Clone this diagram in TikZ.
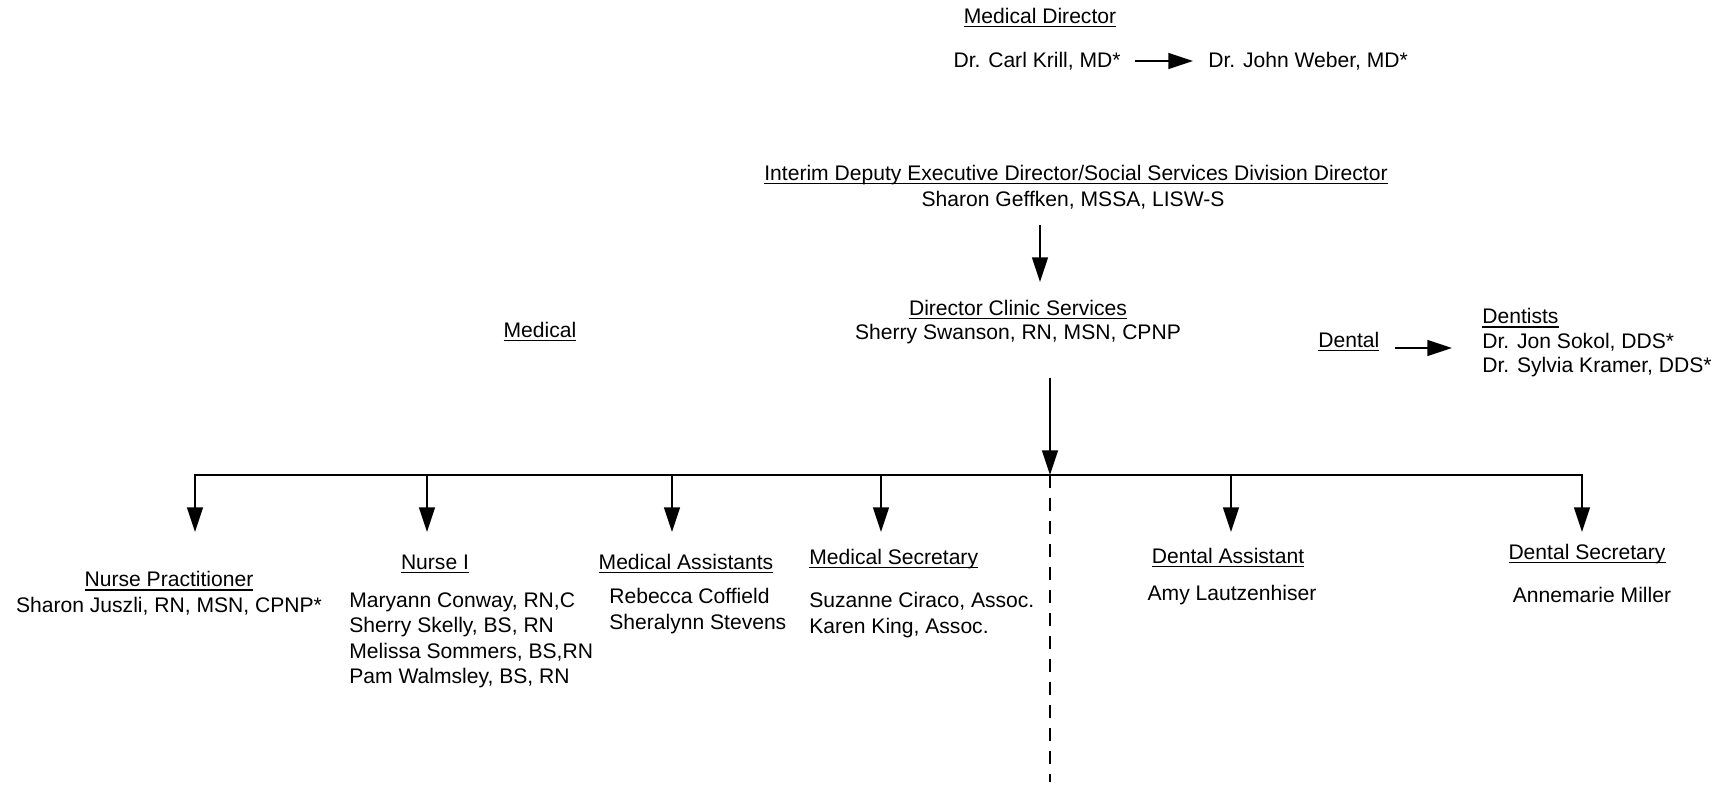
\documentclass[tikz,border=0pt]{standalone}
\usepackage{fontspec}
\setmainfont{Liberation Sans}
\usetikzlibrary{arrows.meta, positioning, calc}
\newsavebox{\hdrbox}
\newcommand{\hdr}[1]{\sbox{\hdrbox}{#1}\rlap{\rule[-2.2pt]{\wd\hdrbox}{0.6pt}}\usebox{\hdrbox}}

\begin{document}
\begin{tikzpicture}[x=0.02cm, y=-0.02cm,
    txt/.style={inner sep=0pt, font=\fontsize{12}{14.5}\selectfont},
    link/.style={-{Triangle[length=14pt, width=9pt]}, line width=1pt}]
    % Frame
    \useasboundingbox (0,0) rectangle (1721,785);

    % Medical director
    \node[txt, anchor=base] (mdir) at (1040,23) {\hdr{Medical Director}};
    \node[txt, anchor=base east] (krill) at (1121,67) {Dr. Carl Krill, MD*};
    \node[txt, anchor=base west] (weber) at (1208,67) {Dr. John Weber, MD*};
    \draw[link] ([shift={(14,-6)}]krill.base east) -- ([shift={(-15,-6)}]weber.base west);

    % Deputy director
    \node[txt, anchor=base] (interim) at (1076,180) {\hdr{Interim Deputy Executive Director/Social Services Division Director}};
    \node[txt, anchor=base] (geffken) at (1073,206) {Sharon Geffken, MSSA, LISW-S};

    % Clinic services
    \node[txt, anchor=base] (clinic) at (1018,315) {\hdr{Director Clinic Services}};
    \node[txt, anchor=base] (swanson) at (1018,339) {Sherry Swanson, RN, MSN, CPNP};
    \coordinate (gtail) at (1040,225);
    \coordinate (ghead) at (1040,282);
    \draw[link] (gtail) -- (ghead);

    % Divisions
    \node[txt, anchor=base] (medical) at (540,337) {\hdr{Medical}};
    \node[txt, anchor=base west] (dental) at (1318,347) {\hdr{Dental}};
    \node[txt, font=\fontsize{12}{14}\selectfont, anchor=north west, align=left] (dentists) at (1482,308)
        {\hdr{Dentists}\\Dr. Jon Sokol, DDS*\\Dr. Sylvia Kramer, DDS*};
    \coordinate (dtail) at (1395,348);
    \coordinate (dhead) at (1452,348);
    \draw[link] (dtail) -- (dhead);

    % Staff bus
    \coordinate (stem) at (1050,378);
    \coordinate (hub) at (1050,475);
    \coordinate (foot) at (1050,782);
    \coordinate (busL) at (195,475);
    \coordinate (busR) at (1582,475);
    \draw[link] (stem) -- (hub);
    \draw[line width=1pt, line cap=rect] (busL) -- (busR);
    \draw[line width=0.8pt, dash pattern=on 7.4pt off 5.7pt] (hub) -- (foot);
    \foreach \drop/\x in {npd/195, nid/427, mad/672, msd/881, dad/1231, dsd/1582} {
        \coordinate (\drop) at (\x,475);
        \draw[link] (\drop) -- ++(0,57);
    }

    % Nurse practitioner
    \node[txt, anchor=north, align=center] (np) at (169,571)
        {\hdr{Nurse Practitioner}\\Sharon Juszli, RN, MSN, CPNP*};

    % Nurse I
    \node[txt, anchor=base] (nurse) at (435,569) {\hdr{Nurse I}};
    \node[txt, anchor=north west, align=left] (nurses) at (349,592)
        {Maryann Conway, RN,C\\Sherry Skelly, BS, RN\\Melissa Sommers, BS,RN\\Pam Walmsley, BS, RN};

    % Medical assistants
    \node[txt, anchor=base] (assist) at (686,569) {\hdr{Medical Assistants}};
    \node[txt, anchor=north west, align=left] (assists) at (609,588)
        {Rebecca Coffield\\Sheralynn Stevens};

    % Medical secretary
    \node[txt, anchor=base west] (msec) at (809,564) {\hdr{Medical Secretary}};
    \node[txt, anchor=north west, align=left] (msecs) at (809,592)
        {Suzanne Ciraco, Assoc.\\Karen King, Assoc.};

    % Dental staff
    \node[txt, anchor=base] (dassist) at (1228,563) {\hdr{Dental Assistant}};
    \node[txt, anchor=base] (amy) at (1232,600) {Amy Lautzenhiser};
    \node[txt, anchor=base] (dsec) at (1587,559) {\hdr{Dental Secretary}};
    \node[txt, anchor=base] (anne) at (1592,602) {Annemarie Miller};

\end{tikzpicture}
\end{document}
